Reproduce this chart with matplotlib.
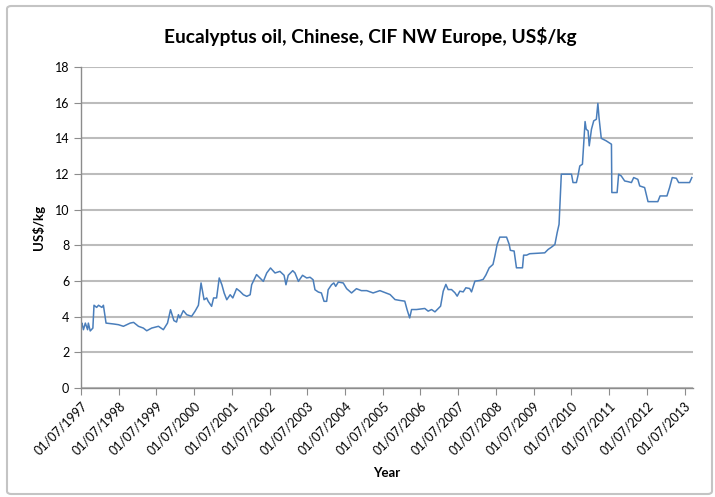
import matplotlib
matplotlib.use("Agg")
import matplotlib.pyplot as plt
from matplotlib.patches import FancyBboxPatch
import pandas as pd

# decimal year / price (US$/kg)
years = [
    1997.50, 1997.52, 1997.56, 1997.61, 1997.67, 1997.69, 1997.74, 1997.81,
    1997.84, 1997.91, 1997.96, 1998.05, 1998.09, 1998.16, 1998.36, 1998.49,
    1998.62, 1998.80, 1998.89, 1999.02, 1999.15, 1999.24, 1999.37, 1999.55,
    1999.68, 1999.79, 1999.87, 1999.96, 2000.03, 2000.08, 2000.12, 2000.21,
    2000.30, 2000.43, 2000.52, 2000.61, 2000.68, 2000.76, 2000.83, 2000.87,
    2000.96, 2001.01, 2001.09, 2001.16, 2001.23, 2001.29, 2001.36, 2001.45,
    2001.52, 2001.62, 2001.71, 2001.80, 2001.89, 2001.98, 2002.02, 2002.15,
    2002.24, 2002.33, 2002.42, 2002.52, 2002.64, 2002.77, 2002.88, 2002.93,
    2002.99, 2003.05, 2003.11, 2003.17, 2003.26, 2003.37, 2003.48, 2003.57,
    2003.65, 2003.70, 2003.79, 2003.87, 2003.94, 2004.01, 2004.05, 2004.14,
    2004.20, 2004.25, 2004.32, 2004.45, 2004.54, 2004.67, 2004.80, 2004.93,
    2005.07, 2005.24, 2005.42, 2005.69, 2005.82, 2005.95, 2006.08, 2006.14,
    2006.21, 2006.26, 2006.39, 2006.61, 2006.70, 2006.79, 2006.88, 2006.97,
    2007.03, 2007.10, 2007.17, 2007.23, 2007.32, 2007.41, 2007.47, 2007.54,
    2007.63, 2007.70, 2007.80, 2007.85, 2007.94, 2008.07, 2008.16, 2008.23,
    2008.32, 2008.42, 2008.47, 2008.53, 2008.60, 2008.78, 2008.85, 2008.88,
    2008.98, 2009.04, 2009.20, 2009.23, 2009.31, 2009.39, 2009.79, 2009.88,
    2009.97, 2010.06, 2010.12, 2010.17, 2010.23, 2010.50, 2010.54, 2010.63,
    2010.67, 2010.72, 2010.79, 2010.83, 2010.86, 2010.89, 2010.94, 2010.97,
    2011.03, 2011.09, 2011.16, 2011.20, 2011.23, 2011.29, 2011.42, 2011.56,
    2011.57, 2011.71, 2011.75, 2011.82, 2011.91, 2012.00, 2012.09, 2012.15,
    2012.26, 2012.31, 2012.44, 2012.53, 2012.79, 2012.85, 2013.03, 2013.10,
    2013.17, 2013.28, 2013.34, 2013.63, 2013.69,
]
prices = [
    3.55, 3.64, 3.27, 3.64, 3.27, 3.64, 3.20, 3.36,
    4.64, 4.52, 4.64, 4.52, 4.64, 3.64, 3.59, 3.55,
    3.46, 3.64, 3.68, 3.46, 3.36, 3.21, 3.36, 3.46,
    3.27, 3.64, 4.39, 3.78, 3.70, 4.11, 3.93, 4.34,
    4.11, 4.02, 4.30, 4.64, 5.89, 4.95, 5.05, 4.86,
    4.58, 5.05, 5.05, 6.17, 5.79, 5.33, 4.95, 5.23,
    5.05, 5.57, 5.42, 5.23, 5.14, 5.23, 5.79, 6.36,
    6.17, 5.98, 6.45, 6.73, 6.45, 6.54, 6.32, 5.79,
    6.32, 6.45, 6.58, 6.45, 5.98, 6.32, 6.17, 6.21,
    6.07, 5.51, 5.38, 5.33, 4.86, 4.86, 5.51, 5.79,
    5.89, 5.70, 5.94, 5.89, 5.57, 5.33, 5.57, 5.46,
    5.46, 5.33, 5.46, 5.24, 4.96, 4.91, 4.87, 4.40,
    3.93, 4.40, 4.40, 4.46, 4.31, 4.40, 4.27, 4.46,
    4.59, 5.43, 5.81, 5.52, 5.52, 5.34, 5.15, 5.43,
    5.39, 5.62, 5.58, 5.39, 5.99, 6.03, 6.09, 6.33,
    6.74, 6.93, 7.40, 8.05, 8.46, 8.46, 8.05, 7.72,
    7.68, 6.74, 6.74, 7.45, 7.45, 7.53, 7.58, 7.77,
    7.90, 8.05, 8.71, 9.18, 11.99, 11.99, 11.52, 11.52,
    11.89, 12.45, 12.55, 13.95, 14.94, 14.51, 14.42, 13.58,
    14.51, 14.98, 15.07, 15.96, 15.17, 14.00, 13.86, 13.67,
    10.96, 10.96, 11.99, 11.89, 11.61, 11.57, 11.52, 11.80,
    11.70, 11.33, 11.24, 10.45, 10.45, 10.77, 10.77, 11.24,
    11.80, 11.76, 11.52, 11.52, 11.80,
]
tick_years = list(range(1997, 2014))


def to_date(y):
    yr = int(y)
    start = pd.Timestamp(year=yr, month=1, day=1)
    return start + pd.Timedelta(days=(y - yr) * 365.25)


dates = [to_date(y) for y in years]
tick_dates = [pd.Timestamp(year=y, month=7, day=1) for y in tick_years]
tick_labels = [d.strftime("%d/%m/%Y") for d in tick_dates]

fig = plt.figure(figsize=(7.15, 4.97), dpi=100)
ax = fig.add_axes([0.1133, 0.2193, 0.8559, 0.6459])

# chart border
fig.patches.append(FancyBboxPatch((7 / 715, 3 / 497), 705 / 715, 488 / 497,
                                  boxstyle="round,pad=0,rounding_size=0.006",
                                  transform=fig.transFigure, fill=False,
                                  edgecolor="#c4c4c4", linewidth=1.5))

ax.plot(dates, prices, color="#4a7ebb", linewidth=1.1)

ax.set_ylim(0, 18)
ax.set_yticks(range(0, 19, 2))
ax.set_xlim(tick_dates[0], to_date(2013.72))
ax.set_xticks(tick_dates)
ax.set_xticklabels(tick_labels, rotation=45, ha="right", rotation_mode="anchor")

ax.yaxis.grid(True, color="#bcbcbc", linewidth=1.5)
ax.set_axisbelow(True)
for s in ["top", "right"]:
    ax.spines[s].set_visible(False)
for s in ["left", "bottom"]:
    ax.spines[s].set_color("#8c8c8c")
    ax.spines[s].set_linewidth(1.0)
ax.tick_params(axis="both", colors="#8c8c8c", labelcolor="black",
               labelsize=9, length=5, direction="out")

# title sits a bit left of the plot centre, like the original
fig.text(370 / 715, 1 - 37 / 497, "Eucalyptus oil, Chinese, CIF NW Europe, US$/kg",
         ha="center", va="center", fontsize=13.8, fontweight="bold", family="Lato")
ax.set_ylabel("US$/kg", fontsize=9.5, fontweight="bold", family="Lato", labelpad=7)
ax.set_xlabel("Year", fontsize=9.5, fontweight="bold", family="Lato", labelpad=7)
for lbl in ax.get_xticklabels() + ax.get_yticklabels():
    lbl.set_family("Lato")

fig.savefig("out.png", dpi=100)
